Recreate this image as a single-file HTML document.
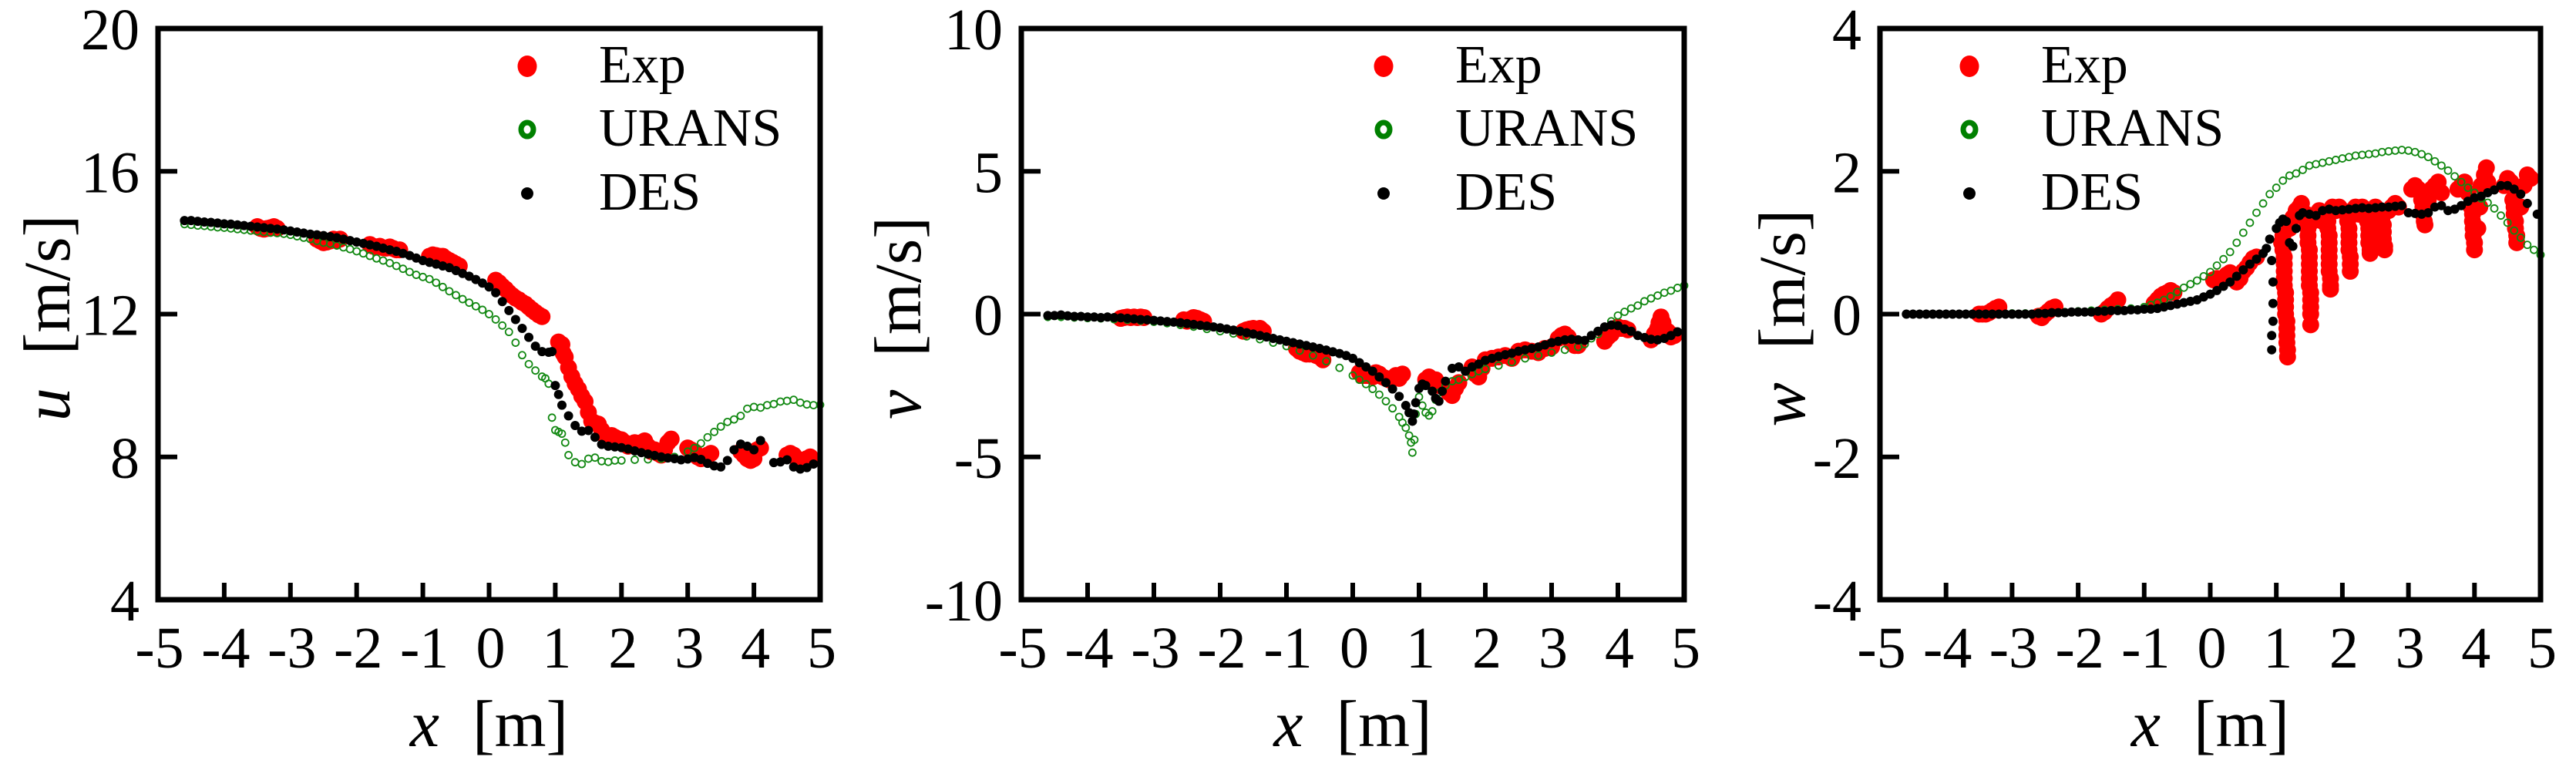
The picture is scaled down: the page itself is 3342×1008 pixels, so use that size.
<!DOCTYPE html>
<html><head><meta charset="utf-8"><style>
html,body{margin:0;padding:0;background:#fff;}
svg, svg text{font-family:"Liberation Serif","Times New Roman",serif;}
svg{display:block;}
</style></head><body>
<svg id="fig" width="3342" height="1008" viewBox="0 0 3342 1008" xmlns="http://www.w3.org/2000/svg" font-family="Liberation Serif, serif"></svg>
<script>
const xTicks = [-5,-4,-3,-2,-1,0,1,2,3,4,5];
const uTicks = [4,8,12,16,20];
const vTicks = [-10,-5,0,5,10];
const wTicks = [-4,-2,0,2,4];
const legendLabels = ["Exp","URANS","DES"];

const uExp = [[-3.5,14.45],[-3.45,14.4],[-3.4,14.38],[-3.35,14.4],[-3.3,14.42],[-3.25,14.45],[-3.2,14.4],
[-2.6,14.1],[-2.55,14.05],[-2.5,14.0],[-2.45,14.02],[-2.4,14.05],[-2.35,14.1],[-2.3,14.08],[-2.25,14.1],
[-1.8,13.95],[-1.75,13.9],[-1.7,13.88],[-1.65,13.9],[-1.6,13.86],[-1.55,13.85],[-1.5,13.88],[-1.45,13.84],[-1.4,13.8],[-1.35,13.8],
[-0.9,13.62],[-0.85,13.66],[-0.8,13.64],[-0.75,13.62],[-0.7,13.62],[-0.65,13.55],[-0.6,13.5],[-0.55,13.45],[-0.5,13.4],[-0.45,13.35],
[0.1,12.95],[0.15,12.88],[0.2,12.78],[0.25,12.7],[0.3,12.6],[0.35,12.52],[0.4,12.45],[0.45,12.4],[0.5,12.33],[0.55,12.28],[0.6,12.2],[0.65,12.12],[0.7,12.05],[0.75,11.98],[0.8,11.93],
[1.05,11.22],[1.1,11.15],[1.12,10.9],[1.15,10.8],[1.2,10.5],[1.25,10.25],[1.3,10.05],[1.35,9.9],[1.4,9.7],[1.45,9.55],[1.5,9.25],[1.55,9.0],[1.6,8.95],[1.65,8.92],[1.7,8.75],[1.75,8.6],[1.8,8.55],[1.85,8.6],[1.9,8.55],[1.95,8.5],[2.0,8.48],[2.05,8.4],[2.1,8.3],[2.15,8.35],[2.2,8.4],[2.25,8.3],[2.3,8.4],[2.35,8.45],[2.4,8.3],[2.45,8.15],[2.5,8.2],[2.55,8.1],[2.6,8.05],[2.65,8.2],[2.7,8.4],[2.75,8.5],
[3.0,8.25],[3.05,8.2],[3.1,8.15],[3.15,8.0],[3.2,7.95],[3.25,8.0],[3.3,8.05],[3.35,8.1],
[3.8,8.15],[3.85,8.05],[3.9,7.95],[3.95,7.9],[4.0,7.95],[4.05,8.2],[4.1,8.25],
[4.5,8.05],[4.55,8.1],[4.6,8.05],[4.65,7.95],[4.7,7.9],[4.75,7.85],[4.8,7.95],[4.85,8.0]];
const uUrans = [[-4.6,14.52],[-4.5,14.5],[-4.4,14.48],[-4.3,14.47],[-4.2,14.45],[-4.1,14.43],[-4.0,14.42],[-3.9,14.4],[-3.8,14.38],[-3.7,14.36],[-3.6,14.34],[-3.5,14.32],[-3.4,14.3],[-3.3,14.28],[-3.2,14.27],[-3.1,14.25],[-3.0,14.22],[-2.9,14.18],[-2.8,14.14],[-2.7,14.1],[-2.6,14.05],[-2.5,14.0],[-2.4,13.97],[-2.3,13.92],[-2.2,13.87],[-2.1,13.82],[-2.0,13.76],[-1.9,13.7],[-1.8,13.63],[-1.7,13.56],[-1.6,13.5],[-1.5,13.43],[-1.4,13.35],[-1.3,13.27],[-1.2,13.18],[-1.1,13.1],[-1.0,13.04],[-0.9,12.98],[-0.8,12.88],[-0.7,12.76],[-0.6,12.64],[-0.5,12.53],[-0.4,12.42],[-0.3,12.32],[-0.2,12.22],[-0.1,12.12],[0.0,12.0],[0.1,11.85],[0.2,11.68],[0.3,11.5],[0.4,11.2],[0.5,10.85],[0.6,10.6],[0.7,10.42],[0.8,10.25],[0.85,10.2],[0.9,10.05],[0.95,9.1],[1.0,8.75],[1.05,8.7],[1.1,8.65],[1.15,8.4],[1.2,8.05],[1.3,7.85],[1.4,7.8],[1.5,7.95],[1.6,7.98],[1.7,7.88],[1.8,7.86],[1.9,7.9],[2.0,7.9],[2.2,7.92],[2.4,7.93],[2.6,7.95],[2.8,8.0],[3.0,8.15],[3.1,8.25],[3.2,8.38],[3.3,8.55],[3.4,8.7],[3.5,8.85],[3.6,8.98],[3.7,9.05],[3.8,9.15],[3.9,9.35],[4.0,9.4],[4.1,9.38],[4.2,9.45],[4.3,9.48],[4.4,9.55],[4.5,9.57],[4.6,9.6],[4.7,9.52],[4.8,9.47],[4.9,9.45],[5.0,9.46]];
const uDes = [[-4.6,14.62],[-4.5,14.62],[-4.4,14.6],[-4.3,14.58],[-4.2,14.57],[-4.1,14.55],[-4.0,14.53],[-3.9,14.52],[-3.8,14.5],[-3.7,14.48],[-3.6,14.46],[-3.5,14.44],[-3.4,14.42],[-3.3,14.4],[-3.2,14.38],[-3.1,14.36],[-3.0,14.33],[-2.9,14.3],[-2.8,14.27],[-2.7,14.24],[-2.6,14.22],[-2.5,14.2],[-2.4,14.17],[-2.3,14.14],[-2.2,14.1],[-2.1,14.06],[-2.0,14.02],[-1.9,13.98],[-1.8,13.94],[-1.7,13.9],[-1.6,13.85],[-1.5,13.8],[-1.4,13.76],[-1.3,13.7],[-1.2,13.64],[-1.1,13.57],[-1.0,13.5],[-0.9,13.45],[-0.8,13.4],[-0.7,13.35],[-0.6,13.3],[-0.5,13.22],[-0.4,13.14],[-0.3,13.06],[-0.2,12.97],[-0.1,12.87],[0.0,12.76],[0.1,12.6],[0.2,12.35],[0.3,12.1],[0.4,11.85],[0.5,11.6],[0.6,11.35],[0.7,11.1],[0.8,10.95],[0.9,10.93],[0.95,10.95],[1.0,10.0],[1.05,9.75],[1.1,9.45],[1.2,9.15],[1.3,8.88],[1.4,8.72],[1.5,8.74],[1.6,8.55],[1.7,8.35],[1.8,8.3],[1.9,8.28],[2.0,8.26],[2.1,8.22],[2.2,8.17],[2.3,8.12],[2.4,8.08],[2.5,8.04],[2.6,8.0],[2.7,7.97],[2.8,7.95],[2.9,7.92],[3.0,7.94],[3.1,7.98],[3.2,7.93],[3.3,7.82],[3.4,7.75],[3.5,7.72],[3.6,7.9],[3.7,8.2],[3.8,8.36],[3.9,8.3],[4.0,8.2],[4.1,8.46],[4.3,7.84],[4.4,7.86],[4.5,7.92],[4.6,7.72],[4.7,7.66],[4.8,7.7],[4.9,7.8]];

const vExp = [[-3.5,-0.15],[-3.45,-0.12],[-3.4,-0.1],[-3.35,-0.12],[-3.3,-0.1],[-3.25,-0.12],[-3.2,-0.1],[-3.15,-0.12],
[-2.55,-0.2],[-2.5,-0.25],[-2.45,-0.18],[-2.4,-0.12],[-2.35,-0.15],[-2.3,-0.2],[-2.25,-0.25],
[-1.65,-0.6],[-1.6,-0.55],[-1.55,-0.52],[-1.5,-0.5],[-1.45,-0.55],[-1.4,-0.5],[-1.35,-0.6],
[-0.85,-1.2],[-0.8,-1.3],[-0.75,-1.35],[-0.7,-1.4],[-0.65,-1.4],[-0.6,-1.35],[-0.55,-1.45],[-0.5,-1.5],[-0.45,-1.6],
[0.1,-2.05],[0.15,-2.15],[0.2,-2.15],[0.25,-2.1],[0.3,-2.2],[0.35,-2.05],[0.4,-2.1],[0.45,-2.2],[0.5,-2.25],[0.55,-2.3],[0.6,-2.25],[0.65,-2.15],[0.7,-2.25],[0.75,-2.1],
[1.1,-2.3],[1.15,-2.2],[1.2,-2.4],[1.25,-2.3],[1.3,-2.5],
[1.45,-2.75],[1.5,-2.85],[1.55,-2.6],[1.6,-2.4],
[1.8,-1.85],[1.85,-2.1],[1.9,-2.2],[1.95,-1.9],[2.0,-1.6],[2.1,-1.55],[2.2,-1.5],[2.3,-1.45],[2.4,-1.55],[2.5,-1.3],[2.6,-1.25],[2.7,-1.3],[2.8,-1.35],[2.9,-1.2],[3.0,-1.15],
[3.1,-0.85],[3.15,-0.75],[3.2,-0.7],[3.25,-0.8],[3.3,-1.0],[3.35,-1.1],[3.4,-1.1],
[3.8,-0.95],[3.85,-0.8],[3.9,-0.7],[3.95,-0.55],[4.0,-0.45],[4.05,-0.5],[4.1,-0.5],[4.15,-0.55],
[4.5,-0.9],[4.55,-0.7],[4.6,-0.5],[4.62,-0.3],[4.65,-0.1],[4.68,-0.3],[4.7,-0.5],[4.75,-0.6],[4.8,-0.8],[4.85,-0.75]];
const vUrans = [[-4.6,-0.1],[-4.4,-0.1],[-4.2,-0.12],[-4.0,-0.14],[-3.8,-0.15],[-3.6,-0.18],[-3.4,-0.2],[-3.2,-0.23],[-3.0,-0.27],[-2.8,-0.32],[-2.6,-0.38],[-2.4,-0.44],[-2.2,-0.52],[-2.0,-0.6],[-1.8,-0.68],[-1.6,-0.78],[-1.4,-0.88],[-1.2,-1.0],[-1.0,-1.12],[-0.8,-1.28],[-0.6,-1.45],[-0.4,-1.65],[-0.2,-1.88],[0.0,-2.15],[0.1,-2.3],[0.2,-2.45],[0.3,-2.62],[0.4,-2.82],[0.5,-3.05],[0.6,-3.3],[0.7,-3.6],[0.75,-3.8],[0.8,-3.98],[0.85,-4.25],[0.88,-4.5],[0.9,-4.85],[0.93,-4.4],[0.95,-3.5],[1.0,-2.9],[1.05,-3.2],[1.1,-3.45],[1.15,-3.55],[1.2,-3.4],[1.25,-3.0],[1.3,-2.75],[1.4,-2.5],[1.5,-2.35],[1.6,-2.3],[1.7,-2.2],[1.8,-2.1],[1.9,-2.0],[2.0,-1.92],[2.2,-1.8],[2.4,-1.68],[2.6,-1.55],[2.8,-1.45],[3.0,-1.35],[3.2,-1.25],[3.4,-1.15],[3.5,-1.05],[3.6,-0.85],[3.7,-0.7],[3.8,-0.45],[3.9,-0.25],[4.0,-0.05],[4.1,0.08],[4.2,0.2],[4.3,0.3],[4.4,0.45],[4.5,0.55],[4.6,0.65],[4.7,0.75],[4.8,0.82],[4.9,0.92],[5.0,1.0]];
const vDes = [[-4.6,-0.05],[-4.5,-0.05],[-4.4,-0.03],[-4.3,-0.06],[-4.2,-0.08],[-4.1,-0.08],[-4.0,-0.1],[-3.9,-0.1],[-3.8,-0.12],[-3.7,-0.1],[-3.6,-0.12],[-3.5,-0.13],[-3.4,-0.15],[-3.3,-0.17],[-3.2,-0.19],[-3.1,-0.2],[-3.0,-0.22],[-2.9,-0.24],[-2.8,-0.26],[-2.7,-0.28],[-2.6,-0.3],[-2.5,-0.33],[-2.4,-0.36],[-2.3,-0.39],[-2.2,-0.42],[-2.1,-0.45],[-2.0,-0.48],[-1.9,-0.52],[-1.8,-0.56],[-1.7,-0.6],[-1.6,-0.65],[-1.5,-0.7],[-1.4,-0.75],[-1.3,-0.8],[-1.2,-0.85],[-1.1,-0.9],[-1.0,-0.95],[-0.9,-1.0],[-0.8,-1.05],[-0.7,-1.1],[-0.6,-1.15],[-0.5,-1.2],[-0.4,-1.26],[-0.3,-1.32],[-0.2,-1.38],[-0.1,-1.45],[0.0,-1.55],[0.1,-1.7],[0.2,-1.85],[0.3,-2.0],[0.4,-2.2],[0.5,-2.4],[0.6,-2.62],[0.7,-2.88],[0.8,-3.2],[0.85,-3.45],[0.9,-3.75],[0.92,-3.5],[0.95,-3.1],[1.0,-2.6],[1.05,-2.45],[1.1,-2.5],[1.2,-2.7],[1.25,-2.95],[1.3,-3.05],[1.35,-2.7],[1.4,-2.35],[1.5,-1.9],[1.6,-1.85],[1.7,-2.0],[1.8,-1.85],[1.9,-1.75],[2.0,-1.62],[2.1,-1.55],[2.2,-1.48],[2.3,-1.42],[2.4,-1.37],[2.5,-1.3],[2.6,-1.25],[2.7,-1.2],[2.8,-1.15],[2.9,-1.08],[3.0,-1.0],[3.1,-0.95],[3.2,-0.9],[3.3,-0.88],[3.4,-0.9],[3.5,-0.92],[3.6,-0.75],[3.7,-0.6],[3.8,-0.45],[3.9,-0.38],[4.0,-0.4],[4.1,-0.52],[4.2,-0.6],[4.3,-0.75],[4.4,-0.82],[4.5,-0.88],[4.6,-0.9],[4.7,-0.85],[4.8,-0.75],[4.9,-0.62]];

const wExp = [[-3.5,0.0],[-3.45,0.0],[-3.4,0.0],[-3.35,0.02],[-3.3,0.05],[-3.25,0.08],[-3.2,0.1],
[-2.6,-0.03],[-2.55,-0.05],[-2.5,0.0],[-2.45,0.04],[-2.4,0.08],[-2.35,0.1],
[-1.65,0.0],[-1.6,0.03],[-1.55,0.08],[-1.5,0.12],[-1.45,0.15],[-1.4,0.2],
[-0.85,0.15],[-0.8,0.2],[-0.75,0.25],[-0.7,0.28],[-0.65,0.3],[-0.6,0.33],[-0.55,0.3],
[0.05,0.48],[0.1,0.5],[0.15,0.47],[0.2,0.5],[0.25,0.55],[0.3,0.58],[0.4,0.45],[0.45,0.5],[0.5,0.6],[0.55,0.65],[0.6,0.72],[0.65,0.78],[0.7,0.8],
[1.1,1.1],[1.1,1.0],[1.1,0.9],[1.12,0.8],[1.12,0.7],[1.12,0.6],[1.12,0.5],[1.12,0.4],[1.14,0.3],[1.14,0.2],[1.14,0.1],[1.14,0.0],[1.16,-0.1],[1.16,-0.2],[1.16,-0.3],[1.16,-0.4],[1.17,-0.5],[1.17,-0.6],[1.08,1.0],[1.2,1.2],[1.25,1.35],[1.3,1.45],[1.35,1.5],[1.38,1.55],
[1.45,1.4],[1.46,1.3],[1.48,1.2],[1.48,1.1],[1.48,1.0],[1.5,0.9],[1.5,0.8],[1.5,0.7],[1.5,0.6],[1.5,0.5],[1.5,0.4],[1.52,0.3],[1.52,0.2],[1.52,0.1],[1.52,0.0],[1.52,-0.15],[1.55,1.3],[1.6,1.4],[1.65,1.45],[1.7,1.3],
[1.78,1.4],[1.78,1.3],[1.78,1.2],[1.8,1.1],[1.8,1.0],[1.8,0.9],[1.8,0.8],[1.8,0.7],[1.8,0.6],[1.82,0.5],[1.82,0.4],[1.82,0.35],[1.85,1.5],[1.9,1.45],[1.95,1.5],[2.0,1.45],
[2.08,1.3],[2.1,1.2],[2.1,1.1],[2.1,1.0],[2.1,0.9],[2.12,0.8],[2.12,0.7],[2.12,0.6],[2.15,1.45],[2.2,1.5],[2.25,1.4],[2.3,1.5],
[2.38,1.3],[2.4,1.2],[2.4,1.1],[2.4,1.0],[2.42,0.9],[2.42,0.85],[2.45,1.45],[2.5,1.5],[2.55,1.45],
[2.6,1.35],[2.62,1.25],[2.62,1.15],[2.62,1.05],[2.64,0.95],[2.64,0.9],[2.7,1.45],[2.75,1.5],[2.8,1.55],[2.85,1.5],
[3.05,1.75],[3.1,1.8],[3.15,1.75],[3.2,1.6],[3.22,1.5],[3.22,1.4],[3.24,1.3],[3.25,1.25],[3.3,1.6],[3.35,1.75],[3.4,1.8],[3.45,1.85],[3.5,1.7],
[3.75,1.75],[3.8,1.8],[3.85,1.85],[3.9,1.7],[3.95,1.5],[3.97,1.4],[3.97,1.3],[3.98,1.2],[3.98,1.1],[4.0,1.0],[4.0,0.9],[4.05,1.2],[4.08,1.5],[4.1,1.8],[4.15,1.95],[4.18,2.05],[4.2,1.85],
[4.45,1.8],[4.5,1.9],[4.55,1.85],[4.58,1.6],[4.6,1.5],[4.6,1.4],[4.62,1.3],[4.62,1.2],[4.64,1.1],[4.64,1.0],[4.7,1.5],[4.75,1.8],[4.8,1.95],[4.85,1.9]];
const wUrans = [[-4.6,0.0],[-4.4,0.0],[-4.2,0.0],[-4.0,0.0],[-3.8,0.0],[-3.6,0.0],[-3.4,0.0],[-3.2,0.0],[-3.0,0.01],[-2.8,0.01],[-2.6,0.02],[-2.4,0.02],[-2.2,0.03],[-2.0,0.04],[-1.8,0.05],[-1.6,0.06],[-1.4,0.07],[-1.2,0.08],[-1.0,0.1],[-0.9,0.13],[-0.8,0.16],[-0.7,0.2],[-0.6,0.25],[-0.5,0.31],[-0.4,0.37],[-0.3,0.42],[-0.2,0.47],[-0.1,0.53],[0.0,0.59],[0.1,0.68],[0.2,0.77],[0.3,0.87],[0.4,1.0],[0.5,1.14],[0.6,1.28],[0.7,1.42],[0.8,1.55],[0.9,1.68],[1.0,1.77],[1.1,1.87],[1.2,1.94],[1.3,1.97],[1.4,2.02],[1.5,2.08],[1.6,2.1],[1.7,2.12],[1.8,2.14],[1.9,2.16],[2.0,2.18],[2.1,2.2],[2.2,2.22],[2.3,2.23],[2.4,2.24],[2.5,2.25],[2.6,2.27],[2.7,2.28],[2.8,2.29],[2.9,2.3],[3.0,2.29],[3.1,2.27],[3.2,2.24],[3.3,2.2],[3.4,2.14],[3.5,2.08],[3.6,2.01],[3.7,1.93],[3.8,1.85],[3.9,1.77],[4.0,1.7],[4.1,1.62],[4.2,1.56],[4.3,1.48],[4.4,1.38],[4.5,1.28],[4.6,1.17],[4.7,1.07],[4.8,0.97],[4.9,0.9],[5.0,0.83]];
const wDes = [[-4.6,0.0],[-4.5,0.0],[-4.4,0.0],[-4.3,0.0],[-4.2,0.0],[-4.1,0.0],[-4.0,0.0],[-3.9,0.0],[-3.8,0.0],[-3.7,0.0],[-3.6,0.0],[-3.5,0.0],[-3.4,0.0],[-3.3,0.0],[-3.2,0.0],[-3.1,0.0],[-3.0,0.0],[-2.9,0.0],[-2.8,0.0],[-2.7,0.0],[-2.6,0.01],[-2.5,0.01],[-2.4,0.02],[-2.3,0.02],[-2.2,0.02],[-2.1,0.03],[-2.0,0.03],[-1.9,0.03],[-1.8,0.03],[-1.7,0.04],[-1.6,0.04],[-1.5,0.05],[-1.4,0.05],[-1.3,0.05],[-1.2,0.06],[-1.1,0.06],[-1.0,0.07],[-0.9,0.07],[-0.8,0.08],[-0.7,0.1],[-0.6,0.12],[-0.5,0.14],[-0.4,0.16],[-0.3,0.18],[-0.2,0.2],[-0.1,0.24],[0.0,0.28],[0.1,0.33],[0.2,0.39],[0.3,0.45],[0.4,0.53],[0.5,0.62],[0.6,0.7],[0.7,0.77],[0.8,0.85],[0.85,0.92],[0.9,1.05],[0.93,0.75],[0.95,0.45],[0.95,0.15],[0.95,-0.1],[0.93,-0.3],[0.93,-0.5],[1.0,1.2],[1.05,1.28],[1.1,1.33],[1.15,1.3],[1.2,1.0],[1.25,0.95],[1.3,1.2],[1.35,1.38],[1.4,1.42],[1.5,1.4],[1.6,1.38],[1.7,1.45],[1.8,1.47],[1.9,1.45],[2.0,1.46],[2.1,1.47],[2.2,1.48],[2.3,1.49],[2.4,1.48],[2.5,1.49],[2.6,1.5],[2.7,1.5],[2.8,1.51],[2.9,1.52],[3.0,1.42],[3.1,1.41],[3.2,1.4],[3.3,1.42],[3.4,1.5],[3.5,1.52],[3.6,1.45],[3.7,1.47],[3.8,1.52],[3.9,1.58],[4.0,1.63],[4.1,1.65],[4.2,1.7],[4.3,1.74],[4.4,1.8],[4.5,1.8],[4.6,1.75],[4.7,1.68],[4.8,1.55],[4.95,1.4]];

const NS = "http://www.w3.org/2000/svg";
const FONT = '"Liberation Serif", "Times New Roman", serif';
const svg = document.getElementById('fig');
function mk(tag, attrs, parent){
  const e = document.createElementNS(NS, tag);
  for (const k in attrs) e.setAttribute(k, attrs[k]);
  if (tag === 'text') e.style.fontFamily = FONT;
  (parent||svg).appendChild(e);
  return e;
}
const panels = [
  {id:'u', left:205, right:1064, ymin:4, ymax:20, ticks:uTicks, exp:uExp, urans:uUrans, des:uDes, sym:'u', ylx:62, leg:{mx:684, tx:777}},
  {id:'v', left:1325, right:2185, ymin:-10, ymax:10, ticks:vTicks, exp:vExp, urans:vUrans, des:vDes, sym:'v', ylx:1166, leg:{mx:1795, tx:1888}},
  {id:'w', left:2439, right:3296, ymin:-4, ymax:4, ticks:wTicks, exp:wExp, urans:wUrans, des:wDes, sym:'w', ylx:2313, leg:{mx:2555, tx:2648}}
];
const TOP = 37, BOT = 778;
panels.forEach(p => {
  const g = mk('g', {});
  
  
  const sx = x => p.left + (x + 5) / 10 * (p.right - p.left);
  const sy = y => BOT - (y - p.ymin) / (p.ymax - p.ymin) * (BOT - TOP);
  const gE = mk('g', {fill:'#ff0000'}, g);
  
  
  p.exp.forEach(d => { const c = mk('circle', {cx:sx(d[0]), cy:sy(d[1]), r:11}, gE);
      });
  const gU = mk('g', {fill:'none', stroke:'#118811', 'stroke-width':1.8}, g);
  
  
  p.urans.forEach(d => { const c = mk('circle', {cx:sx(d[0]), cy:sy(d[1]), r:4.5}, gU);
      });
  const gD = mk('g', {fill:'#000'}, g);
  
  
  p.des.forEach(d => { const c = mk('circle', {cx:sx(d[0]), cy:sy(d[1]), r:6}, gD);
      });
  const fr = mk('rect', {x:p.left, y:TOP, width:p.right-p.left, height:BOT-TOP, fill:'none', stroke:'#000', 'stroke-width':7}, g);
  
  
  xTicks.forEach(t => {
    const x = sx(t);
    if (t > -5 && t < 5) { const l = mk('line', {x1:x, x2:x, y1:BOT, y2:BOT-22, stroke:'#000', 'stroke-width':6}, g);
        }
    const tx = mk('text', {x:x+2, y:866, 'font-size':76, 'text-anchor':'middle'}, g);
    tx.textContent = t;  
  });
  p.ticks.forEach(t => {
    const y = sy(t);
    if (t > p.ymin && t < p.ymax) { const l = mk('line', {x1:p.left, x2:p.left+25, y1:y, y2:y, stroke:'#000', 'stroke-width':6}, g);
        }
    const tx = mk('text', {x:p.left-24, y:y+27, 'font-size':76, 'text-anchor':'end'}, g);
    tx.textContent = t;  
  });
  const xt = mk('text', {x:(p.left+p.right)/2, y:968, 'font-size':86, 'text-anchor':'middle'}, g);
  xt.innerHTML = '<tspan font-style="italic">x</tspan>\u00a0 [m]';
   
  const cy = (TOP+BOT)/2 + 5;
  const yt = mk('text', {x:p.ylx+28, y:cy, 'font-size':86, 'text-anchor':'middle', transform:'rotate(-90 '+(p.ylx+28)+' '+cy+')'}, g);
  yt.innerHTML = '<tspan font-style="italic">' + p.sym + '</tspan>\u00a0 [m/s]';
   
  const lg = mk('g', {}, g);
  
  
  const ly = [86, 168, 251];
  const m1 = mk('ellipse', {cx:p.leg.mx, cy:ly[0], rx:12.5, ry:14, fill:'#ff0000'}, lg);
   
  const m2 = mk('ellipse', {cx:p.leg.mx, cy:ly[1], rx:8, ry:9, fill:'none', stroke:'#008000', 'stroke-width':7}, lg);
   
  const m3 = mk('circle', {cx:p.leg.mx, cy:ly[2], r:8, fill:'#000'}, lg);
   
  legendLabels.forEach((s, i) => {
    const t = mk('text', {x:p.leg.tx, y:ly[i]+21, 'font-size':70}, lg);
    t.textContent = s;
    
    
  });
});
</script>
</body></html>
